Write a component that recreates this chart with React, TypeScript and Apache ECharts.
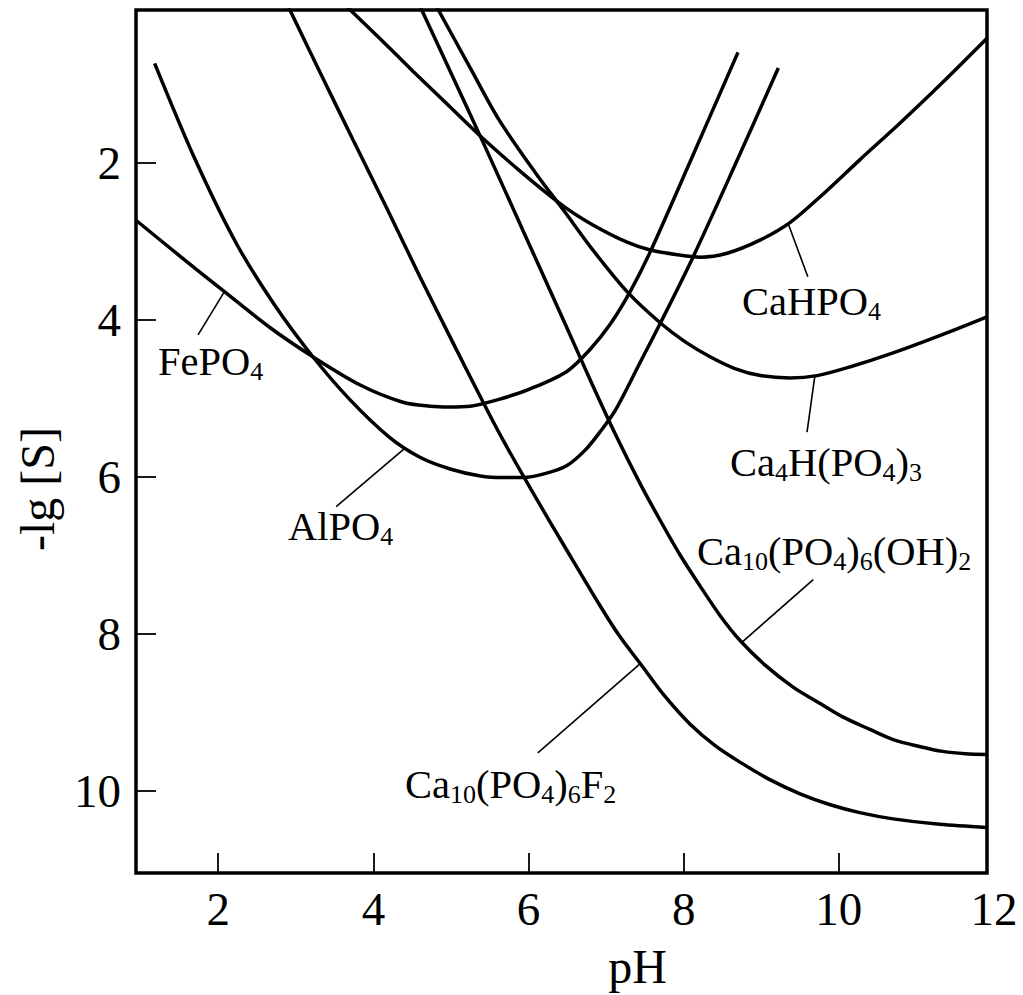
import React, { useEffect, useRef } from 'react';
import * as echarts from 'echarts';

const FONT = 'Liberation Serif';

const X_TICKS = [2, 4, 6, 8, 10];
const X_LABELS = [2, 4, 6, 8, 10, 12];
const Y_TICKS = [2, 4, 6, 8, 10];

// [pH, -lg S]
const fePO4 = [[0.94, 2.73], [1.51, 3.19], [2.08, 3.64], [2.67, 4.10], [3.22, 4.47], [3.83, 4.83], [4.38, 5.05], [4.73, 5.10], [4.98, 5.11], [5.25, 5.10], [5.63, 5.01], [6.02, 4.88], [6.49, 4.66], [6.79, 4.38], [7.05, 4.06], [7.31, 3.64], [7.57, 3.13], [8.08, 1.99], [8.70, 0.59]];
const alPO4 = [[1.18, 0.73], [1.70, 1.95], [2.23, 3.02], [2.74, 3.83], [3.22, 4.47], [3.70, 5.02], [4.20, 5.49], [4.60, 5.75], [4.99, 5.90], [5.38, 5.99], [5.67, 6.01], [5.93, 6.01], [6.21, 5.96], [6.49, 5.86], [6.73, 5.66], [6.92, 5.43], [7.12, 5.15], [7.44, 4.54], [7.70, 4.04], [8.12, 3.20], [8.66, 2.03], [9.22, 0.79]];
const caHPO4 = [[3.65, 0.0], [4.09, 0.42], [4.51, 0.83], [4.94, 1.24], [5.36, 1.64], [5.91, 2.12], [6.45, 2.55], [6.83, 2.79], [7.27, 3.01], [7.57, 3.11], [7.92, 3.17], [8.21, 3.20], [8.56, 3.15], [8.99, 2.98], [9.37, 2.76], [9.76, 2.43], [10.27, 1.96], [10.79, 1.49], [11.30, 1.01], [11.91, 0.41]];
const ca4H = [[4.81, 0.0], [5.25, 0.79], [5.62, 1.45], [6.10, 2.14], [6.45, 2.60], [6.83, 3.11], [7.27, 3.64], [7.70, 4.04], [8.02, 4.28], [8.34, 4.47], [8.66, 4.62], [8.99, 4.71], [9.37, 4.74], [9.72, 4.71], [10.14, 4.60], [10.70, 4.42], [11.30, 4.20], [11.91, 3.96]];
const ohApatite = [[4.60, 0.0], [4.99, 0.83], [5.42, 1.75], [5.96, 2.93], [6.49, 4.09], [6.82, 4.82], [7.14, 5.50], [7.44, 6.09], [7.70, 6.56], [7.95, 6.99], [8.21, 7.39], [8.47, 7.77], [8.73, 8.09], [9.05, 8.40], [9.41, 8.68], [9.76, 8.89], [10.05, 9.06], [10.40, 9.22], [10.70, 9.35], [11.05, 9.44], [11.34, 9.50], [11.63, 9.53], [11.91, 9.54]];
const fApatite = [[2.90, 0.0], [3.31, 0.84], [3.74, 1.71], [4.17, 2.57], [4.60, 3.45], [5.02, 4.28], [5.42, 5.06], [5.67, 5.53], [6.09, 6.26], [6.49, 6.93], [6.92, 7.64], [7.18, 8.04], [7.44, 8.38], [7.76, 8.80], [8.08, 9.15], [8.41, 9.43], [8.73, 9.64], [9.11, 9.86], [9.50, 10.04], [9.89, 10.18], [10.27, 10.28], [10.70, 10.36], [11.30, 10.43], [11.91, 10.47]];

// leader lines [from label, to curve]
const leaderFe = [[1.74, 4.19], [2.08, 3.64]];
const leaderAl = [[3.52, 6.38], [4.40, 5.64]];
const leaderCaH = [[9.60, 3.45], [9.35, 2.78]];
const leaderCa4 = [[9.59, 5.43], [9.69, 4.72]];
const leaderOH = [[9.67, 7.31], [8.75, 8.11]];
const leaderF = [[6.12, 9.52], [7.44, 8.38]];

const LABEL_TEXTS = [
  '{m|FePO}{s|4}',
  '{m|AlPO}{s|4}',
  '{m|CaHPO}{s|4}',
  '{m|Ca}{s|4}{m|H(PO}{s|4}{m|)}{s|3}',
  '{m|Ca}{s|10}{m|(PO}{s|4}{m|)}{s|6}{m|(OH)}{s|2}',
  '{m|Ca}{s|10}{m|(PO}{s|4}{m|)}{s|6}{m|F}{s|2}',
];
const LABEL_POS = [[158, 338], [288, 503], [742, 278], [730, 439], [697, 528], [405, 761]];

export default function App() {
  const ref = useRef<HTMLDivElement>(null);
  useEffect(() => {
    const chart = echarts.init(ref.current!, undefined, { renderer: 'svg' });
    const mk = (name: string, data: number[][], leader: number[][]) => ({
      type: 'line',
      name,
      data,
      xAxisIndex: 0,
      yAxisIndex: 0,
      showSymbol: false,
      symbol: 'none',
      smooth: 0.3,
      silent: true,
      lineStyle: { color: '#000', width: 3.5 },
      markLine: {
        silent: true,
        symbol: ['none', 'none'],
        lineStyle: { color: '#000', width: 1.6, type: 'solid' },
        label: { show: false },
        data: [[{ coord: leader[0] }, { coord: leader[1] }]],
      },
    });
    const rich = {
      m: { fontSize: 40.5, lineHeight: 46, fontFamily: FONT, fill: '#000' },
      s: { fontSize: 26, lineHeight: 21, verticalAlign: 'bottom', fontFamily: FONT, fill: '#000' },
    };
    const tickStyle = { color: '#000', width: 1.8 };
    chart.setOption({
      animation: false,
      backgroundColor: '#fff',
      grid: [
        { left: 136, top: 10, width: 851, height: 863, show: true, borderColor: '#000', borderWidth: 3.5, backgroundColor: 'rgba(0,0,0,0)' },
        { left: 136, top: 10, width: 858, height: 863, show: false },
      ],
      xAxis: [
        {
          type: 'value', gridIndex: 0, min: 0.94, max: 11.91,
          axisLine: { show: false },
          axisTick: { show: true, inside: true, length: 20, customValues: X_TICKS, lineStyle: tickStyle },
          axisLabel: { show: false },
          splitLine: { show: false },
        },
        {
          type: 'value', gridIndex: 1, min: 0.94, max: 12,
          axisLine: { show: false },
          axisTick: { show: false },
          splitLine: { show: false },
          axisLabel: { show: true, customValues: X_LABELS, margin: 15, fontSize: 47, fontFamily: FONT, color: '#000' },
          name: 'pH', nameLocation: 'middle', nameGap: 72,
          nameTextStyle: { fontSize: 48, fontFamily: FONT, color: '#000', padding: [0, 0, 0, 145] },
        },
      ],
      yAxis: [
        {
          type: 'value', gridIndex: 0, inverse: true, min: 0.05, max: 11.05,
          axisLine: { show: false },
          axisTick: { show: true, inside: true, length: 20, customValues: Y_TICKS, lineStyle: tickStyle },
          axisLabel: { show: true, customValues: Y_TICKS, margin: 15, fontSize: 47, fontFamily: FONT, color: '#000' },
          splitLine: { show: false },
          name: '-lg [S]', nameLocation: 'middle', nameGap: 75, nameRotate: 90,
          nameTextStyle: { fontSize: 48, fontFamily: FONT, color: '#000', padding: [0, 95, 0, 0] },
        },
        { type: 'value', gridIndex: 1, inverse: true, min: 0.05, max: 11.05, show: false },
      ],
      series: [
        mk('FePO4', fePO4, leaderFe),
        mk('AlPO4', alPO4, leaderAl),
        mk('CaHPO4', caHPO4, leaderCaH),
        mk('Ca4H(PO4)3', ca4H, leaderCa4),
        mk('Ca10(PO4)6(OH)2', ohApatite, leaderOH),
        mk('Ca10(PO4)6F2', fApatite, leaderF),
      ],
      graphic: LABEL_TEXTS.map((t, i) => ({
        type: 'text',
        x: LABEL_POS[i][0],
        y: LABEL_POS[i][1],
        silent: true,
        style: { text: t, rich, align: 'left', verticalAlign: 'top', fontFamily: FONT, fontSize: 40.5, fill: '#000' },
      })),
    });
    return () => chart.dispose();
  }, []);
  return <div ref={ref} style={{ position: 'absolute', left: 0, top: 0, width: 1023, height: 995 }} />;
}
